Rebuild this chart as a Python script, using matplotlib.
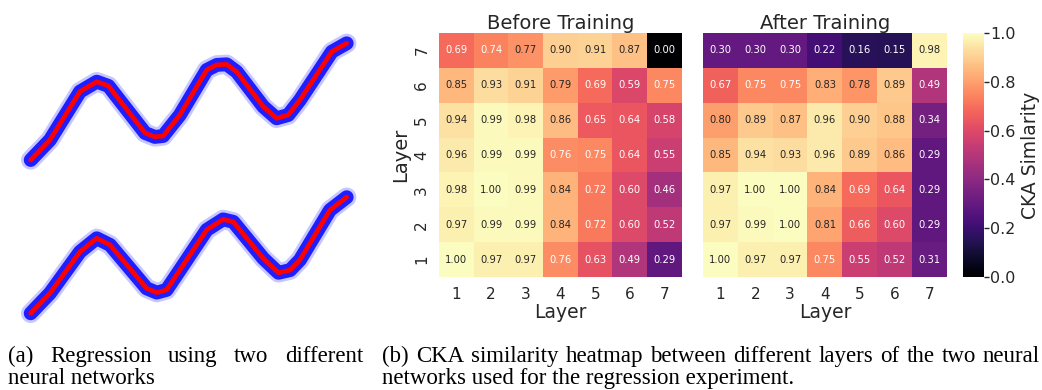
import matplotlib
matplotlib.use("Agg")
import matplotlib.pyplot as plt
import numpy as np

W = 1042
H = 390

# regression curves (two networks)
x_top = [0, 0.61, 1.56, 2.09, 2.46, 3.62, 3.93, 4.19, 4.72, 5.57, 5.89, 6.20, 6.52, 7.36, 7.78, 8.15, 8.52, 9.53, 10]
y_top = [0, 0.67, 2.28, 2.61, 2.47, 0.90, 0.77, 0.80, 1.50, 3.00, 3.17, 3.19, 2.94, 1.78, 1.39, 1.50, 2.00, 3.61, 3.89]
x_bot = [0, 0.61, 1.56, 2.09, 2.51, 3.67, 3.99, 4.30, 4.72, 5.57, 6.09, 6.41, 7.36, 7.84, 8.21, 8.52, 9.47, 10]
y_bot = [0, 0.67, 2.05, 2.50, 2.28, 0.83, 0.69, 0.78, 1.44, 2.78, 3.13, 3.05, 1.83, 1.35, 1.44, 1.78, 3.44, 3.87]

layers = [1, 2, 3, 4, 5, 6, 7]

# rows from layer 1 (bottom) to layer 7 (top)
before = [
    [1.00, 0.97, 0.97, 0.76, 0.63, 0.49, 0.29],
    [0.97, 0.99, 0.99, 0.84, 0.72, 0.60, 0.52],
    [0.98, 1.00, 0.99, 0.84, 0.72, 0.60, 0.46],
    [0.96, 0.99, 0.99, 0.76, 0.75, 0.64, 0.55],
    [0.94, 0.99, 0.98, 0.86, 0.65, 0.64, 0.58],
    [0.85, 0.93, 0.91, 0.79, 0.69, 0.59, 0.75],
    [0.69, 0.74, 0.77, 0.90, 0.91, 0.87, 0.00],
]
after = [
    [1.00, 0.97, 0.97, 0.75, 0.55, 0.52, 0.31],
    [0.97, 0.99, 1.00, 0.81, 0.66, 0.60, 0.29],
    [0.97, 1.00, 1.00, 0.84, 0.69, 0.64, 0.29],
    [0.85, 0.94, 0.93, 0.96, 0.89, 0.86, 0.29],
    [0.80, 0.89, 0.87, 0.96, 0.90, 0.88, 0.34],
    [0.67, 0.75, 0.75, 0.83, 0.78, 0.89, 0.49],
    [0.30, 0.30, 0.30, 0.22, 0.16, 0.15, 0.98],
]

dark = "#262626"
plt.rcParams['font.family'] = ['DejaVu Sans']
plt.rcParams['text.color'] = dark
plt.rcParams['axes.labelcolor'] = dark
plt.rcParams['xtick.color'] = dark
plt.rcParams['ytick.color'] = dark

fig = plt.figure(figsize=(W / 100, H / 100), dpi=100)


def box(left, top, right, bottom):
    return [left / W, (H - bottom) / H, (right - left) / W, (bottom - top) / H]


# left panel: two regression curves
for xs, ys, top, bottom in [(x_top, y_top, 43.3, 160), (x_bot, y_bot, 196.6, 313.3)]:
    ax = fig.add_axes(box(30.7, top, 346.7, bottom))
    ax.plot(xs, ys, color="#2020ff", lw=14, alpha=0.25, solid_capstyle="round",
            solid_joinstyle="round", clip_on=False)
    ax.plot(xs, ys, color="#0000ff", lw=10, alpha=0.85, solid_capstyle="round",
            solid_joinstyle="round", clip_on=False)
    ax.plot(xs, ys, color="#ff0000", lw=3.4, solid_capstyle="round",
            solid_joinstyle="round", clip_on=False)
    ax.set_xlim(0, 10)
    ax.set_ylim(0, 3.89)
    ax.axis("off")


def luminance(c):
    rgb = np.array(c[:3])
    rgb = np.where(rgb <= 0.03928, rgb / 12.92, ((rgb + 0.055) / 1.055) ** 2.4)
    return 0.2126 * rgb[0] + 0.7152 * rgb[1] + 0.0722 * rgb[2]


cmap = plt.get_cmap("magma")
panels = [(before, "Before Training", 439, 682, True), (after, "After Training", 703, 947, False)]
for data, title, left, right, show_y in panels:
    ax = fig.add_axes(box(left, 33, right, 277))
    arr = np.array(data)
    im = ax.imshow(arr, cmap=cmap, vmin=0, vmax=1, origin="lower", aspect="auto",
                   extent=[0.5, 7.5, 0.5, 7.5])
    for i in range(7):
        for j in range(7):
            v = arr[i, j]
            tc = dark if luminance(cmap(v)) > 0.408 else "white"
            ax.text(layers[j], layers[i], "%.2f" % v, ha="center", va="center",
                    fontsize=7.2, color=tc)
    ax.set_xticks(layers)
    ax.set_xticklabels(layers, fontsize=11)
    ax.set_yticks(layers)
    if show_y:
        ax.set_yticklabels(layers, fontsize=11, rotation=90, va="center")
        ax.set_ylabel("Layer", fontsize=14, labelpad=3)
    else:
        ax.set_yticklabels([])
    ax.tick_params(length=0, pad=7)
    ax.set_xlabel("Layer", fontsize=13.5, labelpad=1)
    ax.set_title(title, fontsize=14, pad=3)
    for s in ax.spines.values():
        s.set_visible(False)

cax = fig.add_axes(box(963, 33, 984, 277))
cb = fig.colorbar(im, cax=cax)
cb.outline.set_visible(False)
cb.set_ticks([0, 0.2, 0.4, 0.6, 0.8, 1.0])
cb.ax.tick_params(labelsize=11.5, length=3.5, width=1, pad=1)
cb.set_label("CKA Simlarity", fontsize=13.5, labelpad=4)

# captions (serif, first lines justified)
renderer = fig.canvas.get_renderer()
cap_size = 16.5


def justified(text, left, right, y):
    words = text.split()
    arts = [fig.text(0, y / H, w, fontsize=cap_size, family="Liberation Serif", color="black",
                     transform=None) for w in words]
    widths = [a.get_window_extent(renderer).width for a in arts]
    gap = (right - left - sum(widths)) / (len(words) - 1)
    xpos = left
    for a, w in zip(arts, widths):
        a.set_transform(fig.transFigure)
        a.set_position((xpos / W, (H - y) / H))
        xpos += w + gap


justified("(a) Regression using two different", 8, 363, 362)
fig.text(8 / W, (H - 384) / H, "neural networks", fontsize=cap_size, family="Liberation Serif", color="black")
justified("(b) CKA similarity heatmap between different layers of the two neural", 382, 1040, 362)
fig.text(382 / W, (H - 384) / H, "networks used for the regression experiment.", fontsize=cap_size,
         family="Liberation Serif", color="black")

fig.savefig("out.png", dpi=100)
